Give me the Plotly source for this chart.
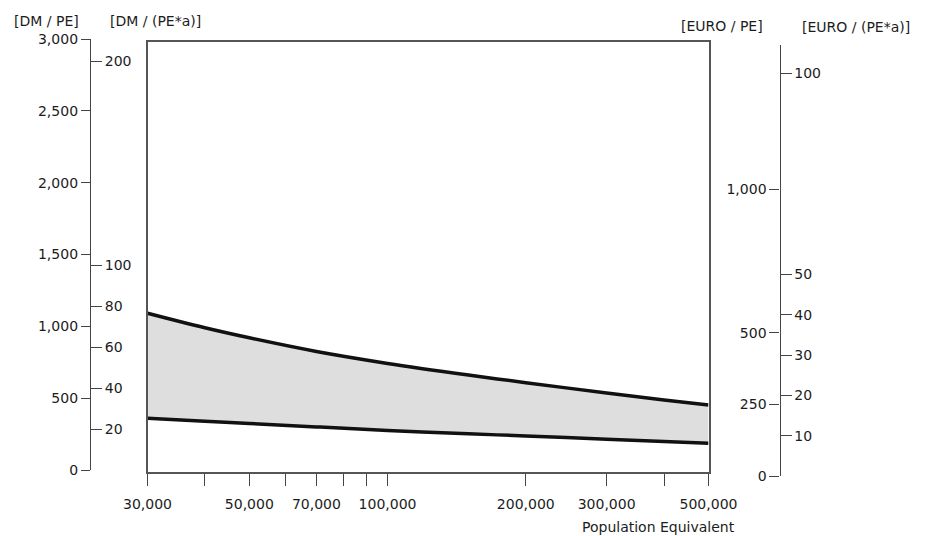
import plotly.graph_objects as go
import math

# ---- data ----
population = [30000, 40000, 50000, 70000, 100000, 150000, 200000, 300000, 400000, 500000]
upper_dm_pe = [1091, 990, 920, 825, 742, 661, 608, 536, 487, 452]
lower_dm_pe = [360, 340, 324, 300, 275, 252, 237, 214, 198, 186]

x_tickvals = [30000, 40000, 50000, 60000, 70000, 80000, 90000, 100000, 200000, 300000, 400000, 500000]
x_ticktext = ["30,000", "", "50,000", "", "70,000", "", "", "100,000", "200,000", "300,000", "", "500,000"]

dm_pe_ticks = [0, 500, 1000, 1500, 2000, 2500, 3000]
dm_pea_ticks = [20, 40, 60, 80, 100, 200]
euro_pe_ticks = [0, 250, 500, 1000]
euro_pea_ticks = [10, 20, 30, 40, 50, 100]

# the page body has an 8px margin, so the figure is placed at (8, 8)
OFF = 8
W, H = 927 - OFF, 536 - OFF
def fx(px):
    return (px - OFF) / W
def fy(py):
    return (H - (py - OFF)) / H

FONT = "DejaVu Sans"
FS = 14
TXT = "#1c1c1c"
AX = "#444444"

fig = go.Figure()

# band fill
fig.add_trace(go.Scatter(x=population, y=lower_dm_pe, mode="lines", line=dict(width=0, shape="spline"),
                         hoverinfo="skip", showlegend=False))
fig.add_trace(go.Scatter(x=population, y=upper_dm_pe, mode="lines", line=dict(width=0, shape="spline"),
                         fill="tonexty", fillcolor="#dedede", hoverinfo="skip", showlegend=False))
# boundary curves
fig.add_trace(go.Scatter(x=population, y=lower_dm_pe, mode="lines",
                         line=dict(color="#111111", width=3.5, shape="spline"), showlegend=False))
fig.add_trace(go.Scatter(x=population, y=upper_dm_pe, mode="lines",
                         line=dict(color="#111111", width=3.5, shape="spline"), showlegend=False))

# dummy traces so that the scale axes exist
for ya in ["y2", "y3", "y4", "y5"]:
    fig.add_trace(go.Scatter(x=[100000], y=[0], yaxis=ya, mode="lines", hoverinfo="skip",
                             showlegend=False, line=dict(width=0)))

# main data axis: 0 at py=470, 3000 at py=39 ; domain from py 472 to 42
px_per = (470 - 39) / 3000.0
main_lo = (470 - 472) / px_per
main_hi = (470 - 42) / px_per

tickfont = dict(family=FONT, size=FS, color=TXT)

fig.update_layout(
    width=W, height=H,
    margin=dict(l=0, r=0, t=0, b=0),
    paper_bgcolor="white", plot_bgcolor="rgba(0,0,0,0)",
    showlegend=False,
    xaxis=dict(type="log", range=[math.log10(30000), math.log10(500000)],
               domain=[fx(147.5), fx(708.5)],
               tickvals=x_tickvals, ticktext=x_ticktext, ticks="outside", ticklen=12,
               tickcolor=AX, tickwidth=1.3, tickfont=tickfont, ticklabelstandoff=6,
               showline=True, linecolor="#555555", linewidth=1.5, mirror=True,
               showgrid=False, zeroline=False, automargin=False),
    yaxis=dict(range=[main_lo, main_hi], domain=[fy(472), fy(42)],
               showline=True, linecolor="#555555", linewidth=1.5, mirror=True,
               showticklabels=False, ticks="", showgrid=False, zeroline=False, automargin=False),
    # DM / PE
    yaxis2=dict(range=[0, 3000], domain=[fy(470), fy(39)], anchor="free", position=fx(90),
                side="left", tickvals=dm_pe_ticks, ticktext=[f"{v:,}" for v in dm_pe_ticks],
                ticks="outside", ticklen=9, tickcolor=AX, tickwidth=1.3, tickfont=tickfont,
                showline=True, linecolor=AX, linewidth=1.3, showgrid=False, zeroline=False,
                automargin=False),
    # DM / (PE*a)
    yaxis3=dict(range=[0, (470 - 39) / ((470 - 61) / 200.0)], domain=[fy(470), fy(39)],
                anchor="free", position=fx(90), side="right",
                tickvals=dm_pea_ticks, ticktext=[str(v) for v in dm_pea_ticks],
                ticks="outside", ticklen=11, tickcolor=AX, tickwidth=1.3, tickfont=tickfont,
                showline=False, showgrid=False, zeroline=False, automargin=False),
    # EURO / PE
    yaxis4=dict(range=[0, (476 - 45) / ((476 - 189.5) / 1000.0)], domain=[fy(476), fy(45)],
                anchor="free", position=fx(779.5), side="left",
                tickvals=euro_pe_ticks, ticktext=[f"{v:,}" for v in euro_pe_ticks],
                ticks="outside", ticklen=10, tickcolor=AX, tickwidth=1.3, tickfont=tickfont,
                showline=True, linecolor=AX, linewidth=1.3, showgrid=False, zeroline=False,
                automargin=False),
    # EURO / (PE*a)
    yaxis5=dict(range=[0, (476 - 45) / ((476 - 73) / 100.0)], domain=[fy(476), fy(45)],
                anchor="free", position=fx(779.5), side="right",
                tickvals=euro_pea_ticks, ticktext=[str(v) for v in euro_pea_ticks],
                ticks="outside", ticklen=11, tickcolor=AX, tickwidth=1.3, tickfont=tickfont,
                showline=False, showgrid=False, zeroline=False, automargin=False),
)

titles = [
    ("[DM / PE]", 46, 21),
    ("[DM / (PE*a)]", 155, 21),
    ("[EURO / PE]", 722, 26),
    ("[EURO / (PE*a)]", 856, 27),
]
for text, cx, cy in titles:
    fig.add_annotation(text=text, x=fx(cx), y=fy(cy), xref="paper", yref="paper",
                       xanchor="center", yanchor="middle", showarrow=False,
                       font=dict(family=FONT, size=FS, color=TXT))

fig.add_annotation(text="Population Equivalent", x=fx(737), y=fy(527), xref="paper", yref="paper",
                   xanchor="right", yanchor="middle", showarrow=False,
                   font=dict(family=FONT, size=FS, color=TXT))

fig.write_html("out.html")
